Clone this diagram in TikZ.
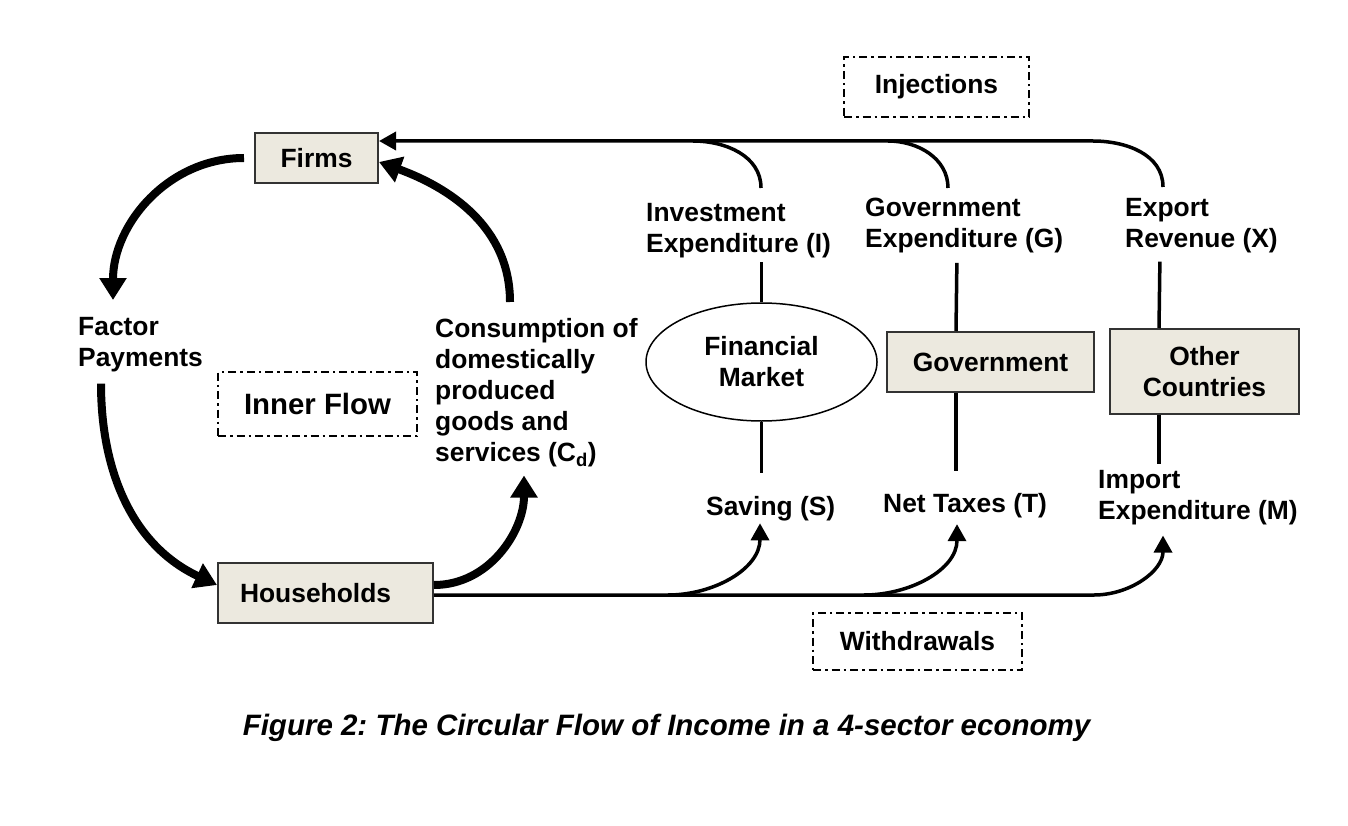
\documentclass[tikz,border=0pt]{standalone}
\usepackage{fontspec}
\setmainfont{Liberation Sans}
\usetikzlibrary{arrows.meta,positioning,shapes.geometric}
\definecolor{boxfill}{RGB}{236,233,223}

\begin{document}
\begin{tikzpicture}[x=1pt, y=-1pt, font=\fontsize{26.4}{31}\selectfont\bfseries,
  box/.style={draw=black!80, line width=2pt, fill=boxfill, inner sep=0pt},
  dashbox/.style={draw, line width=2.2pt, dash pattern=on 8pt off 4pt on 2.5pt off 4pt, inner sep=0pt},
  lab/.style={inner sep=0pt, align=left},
  link/.style={line width=3.5pt},
  flow/.style={line width=3.5pt, -{Triangle[length=17pt,width=18pt]}},
  bigflow/.style={line width=8pt, -{Triangle[length=22pt,width=26pt]}}]
% one unit is one pixel of the 1348x826 figure, y runs down
\useasboundingbox (0,0) rectangle (1348,826);
% sectors
\node[box, minimum width=123pt, minimum height=50pt] (firms) at (316.5,158) {Firms};
\node[box, minimum height=60pt, text width=171pt, inner xsep=22pt, align=left] (hh) at (325.5,593) {Households};
\node[draw, line width=1.5pt, ellipse, minimum width=231pt, minimum height=118pt, inner sep=0pt, align=center] (fin) at (761.5,362) {Financial\\Market};
\node[box, minimum width=207pt, minimum height=60pt] (gov) at (990.5,362) {Government};
\node[box, minimum width=189pt, minimum height=85pt, align=center] (oc) at (1204.5,371.5) {Other\\Countries};
% dash-dot tags
\node[dashbox, minimum width=199pt, minimum height=64pt, font=\fontsize{29.4}{34}\selectfont\bfseries] (inner) at (317.5,404) {Inner Flow};
\node[dashbox, minimum width=185pt, minimum height=60pt] (inj) at (936.5,87) {Injections};
\node[dashbox, minimum width=209pt, minimum height=57pt] (wd) at (917.5,641.5) {Withdrawals};
% flow labels
\node[lab, anchor=north west] (factor) at (78,317) {Factor\\Payments};
\node[lab, anchor=north west] (cons) at (435,318) {Consumption of\\domestically\\produced\\goods and\\services (C\textsubscript{d})};
\node[lab, anchor=north west] (inv) at (646,203) {Investment\\Expenditure (I)};
\node[lab, anchor=north west] (govexp) at (865,198) {Government\\Expenditure (G)};
\node[lab, anchor=north west] (exp) at (1125,198) {Export\\Revenue (X)};
\node[lab, anchor=base west] (sav) at (706,515) {Saving (S)};
\node[lab, anchor=base west] (tax) at (883,512) {Net Taxes (T)};
\node[lab, anchor=north west] (imp) at (1098,470) {Import\\Expenditure (M)};
\node[font=\fontsize{29.5}{34}\selectfont\bfseries\itshape\frenchspacing, anchor=base] (cap) at (666.5,735) {Figure 2: The Circular Flow of Income in a 4-sector economy};
% inner flow
\draw[bigflow] ([xshift=-10pt]firms.west) to[out=180, in=90] ([xshift=35pt,yshift=17pt]factor.north west);
\draw[bigflow] ([xshift=23pt,yshift=-11.5pt]factor.south west) to[out=-90, in=155] ([yshift=8pt]hh.west);
\draw[bigflow] ([yshift=8pt]hh.east) to[out=0, in=-90] ([xshift=89pt,yshift=-8.5pt]cons.south west);
\draw[bigflow] ([xshift=75pt,yshift=16pt]cons.north west) to[out=90, in=-20] ([yshift=-4pt]firms.east);
% injections back to firms
\draw[flow] ([xshift=38pt,yshift=11pt]exp.north west) to[out=90, in=0] ++(-70,-46) coordinate (topR) -- (topR -| firms.east);
\draw[link] ([xshift=115pt,yshift=15pt]inv.north west) to[out=90, in=0] ++(-68,-47);
\draw[link] ([xshift=83pt,yshift=10pt]govexp.north west) to[out=90, in=0] ++(-60,-47);
\draw[link, shorten <=4pt] (fin.north |- inv.south) -- (fin.north);
\draw[link, shorten <=9.5pt] ([xshift=92pt]govexp.south west) -- ([xshift=70pt]gov.north west);
\draw[link, shorten <=8.5pt] ([xshift=35pt]exp.south west) -- ([xshift=50pt]oc.north west);
% withdrawals from households
\draw[link] (fin.south) -- ++(0,51);
\draw[link] ([xshift=70pt]gov.south west) -- ++(0,78);
\draw[link] ([xshift=50pt]oc.south west) -- ++(0,49);
\draw[flow] ([yshift=-2pt]hh.east) -- ++(660,0) to[out=0, in=-90] ([xshift=65pt,yshift=-10.5pt]imp.south west);
\draw[flow] ([xshift=234pt,yshift=-2pt]hh.east) to[out=0, in=-90] ([xshift=54pt,yshift=-2.5pt]sav.south west);
\draw[flow] ([xshift=430pt,yshift=-2pt]hh.east) to[out=0, in=-90] ([xshift=74pt,yshift=-6.5pt]tax.south west);
\end{tikzpicture}
\end{document}
